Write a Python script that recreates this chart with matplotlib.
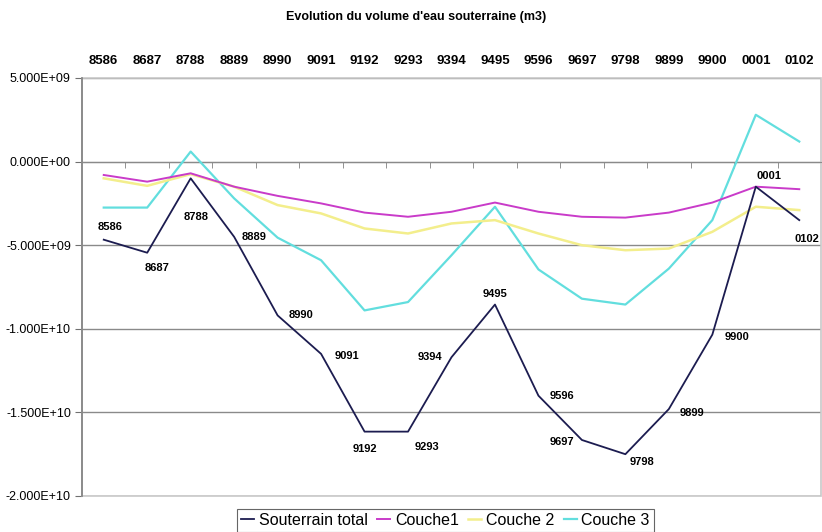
import numpy as np
import matplotlib
matplotlib.use("Agg")
import matplotlib.pyplot as plt
from matplotlib.patches import Rectangle
from matplotlib.ticker import FuncFormatter

plt.rcParams["font.family"] = ["Liberation Sans", "DejaVu Sans"]

periods = ["8586", "8687", "8788", "8889", "8990", "9091", "9192", "9293", "9394",
           "9495", "9596", "9697", "9798", "9899", "9900", "0001", "0102"]

total = [-4.67e9, -5.45e9, -1.0e9, -4.5e9, -9.2e9, -1.15e10, -1.615e10, -1.615e10,
         -1.17e10, -8.55e9, -1.40e10, -1.665e10, -1.75e10, -1.48e10, -1.035e10,
         -1.5e9, -3.5e9]
couche1 = [-0.8e9, -1.2e9, -0.7e9, -1.5e9, -2.05e9, -2.5e9, -3.05e9, -3.3e9,
           -3.0e9, -2.45e9, -3.0e9, -3.3e9, -3.35e9, -3.05e9, -2.45e9, -1.5e9, -1.65e9]
couche2 = [-1.0e9, -1.45e9, -0.75e9, -1.5e9, -2.6e9, -3.1e9, -4.0e9, -4.3e9,
           -3.7e9, -3.5e9, -4.3e9, -5.0e9, -5.3e9, -5.2e9, -4.2e9, -2.7e9, -2.9e9]
couche3 = [-2.75e9, -2.75e9, 0.6e9, -2.2e9, -4.55e9, -5.9e9, -8.9e9, -8.4e9,
           -5.6e9, -2.7e9, -6.45e9, -8.2e9, -8.55e9, -6.4e9, -3.5e9, 2.8e9, 1.2e9]

# label offsets (pixels) for the data labels of the total series
label_offsets = [(6, 13), (10, -15), (5, -39), (20, 0), (23, 0), (26, -2), (0, -17),
                 (19, -15), (-22, 0), (0, 11), (23, 0), (-20, -2), (17, -8),
                 (23, -4), (25, -2), (13, 11), (8, -19)]

fig = plt.figure(figsize=(8.22, 5.32), dpi=100)
ax = fig.add_axes([82 / 822, 1 - 496 / 532, 739 / 822, 418 / 532])

x = np.arange(len(periods))
ax.plot(x, couche3, color="#62dede", lw=1.6, label="Couche 3", zorder=3)
ax.plot(x, couche2, color="#f3ee8c", lw=1.8, label="Couche 2", zorder=3)
ax.plot(x, couche1, color="#c93bc9", lw=1.4, label="Couche1", zorder=4)
ax.plot(x, total, color="#1c1c50", lw=1.3, label="Souterrain total", zorder=5)

for i, lab in enumerate(periods):
    dx, dy = label_offsets[i]
    ax.annotate(lab, (x[i], total[i]), xytext=(dx, dy), textcoords="offset pixels",
                ha="center", va="center", fontsize=8, fontweight="bold", zorder=6)

# spines first: set_position resets the ticks
ax.spines["bottom"].set_position(("data", 0))
ax.spines["bottom"].set_color("#8a8a8a")
ax.spines["left"].set_color("#808080")
ax.spines["left"].set_linewidth(1.2)
ax.spines["top"].set_visible(False)
ax.spines["right"].set_visible(False)

ax.set_xlim(-0.5, len(periods) - 0.5)
ax.set_ylim(-2e10, 5e9)
ax.set_yticks(np.arange(-2e10, 5.1e9, 5e9))
ax.yaxis.set_major_formatter(FuncFormatter(lambda v, p: f"{v:.3E}"))
ax.tick_params(axis="y", labelsize=9, length=5, color="#707070", pad=3)

ax.set_xticks(x)
ax.set_xticklabels(periods)
ax.set_xticks(x[:-1] + 0.5, minor=True)
ax.tick_params(axis="x", which="major", length=0, labeltop=True, labelbottom=False,
               pad=8, labelsize=9.5)
ax.tick_params(axis="x", which="minor", length=4, color="#808080", direction="out",
               labelbottom=False)
for tick in ax.xaxis.get_major_ticks():
    tick.label2.set_fontweight("bold")

ax.yaxis.grid(True, color="#8a8a8a", lw=1.0)
ax.set_axisbelow(True)
ax.add_patch(Rectangle((0, 0), 1, 1, transform=ax.transAxes, fill=False,
                       edgecolor="#c8c8c8", lw=1.2, zorder=2, clip_on=False))

fig.text(0.506, 0.968, "Evolution du volume d'eau souterraine (m3)",
         ha="center", va="center", fontsize=9, fontweight="bold")

handles, labels = ax.get_legend_handles_labels()
order = [3, 2, 1, 0]
leg = fig.legend([handles[i] for i in order], [labels[i] for i in order],
                 loc="upper center", bbox_to_anchor=(0.542, 1 - 501 / 532), ncol=4,
                 fontsize=11.5, frameon=True, fancybox=False, handlelength=0.8,
                 handletextpad=0.3, columnspacing=0.6, borderpad=0.25)
leg.get_frame().set_edgecolor("#404040")
leg.get_frame().set_linewidth(0.8)

fig.savefig("out.png", dpi=100)
